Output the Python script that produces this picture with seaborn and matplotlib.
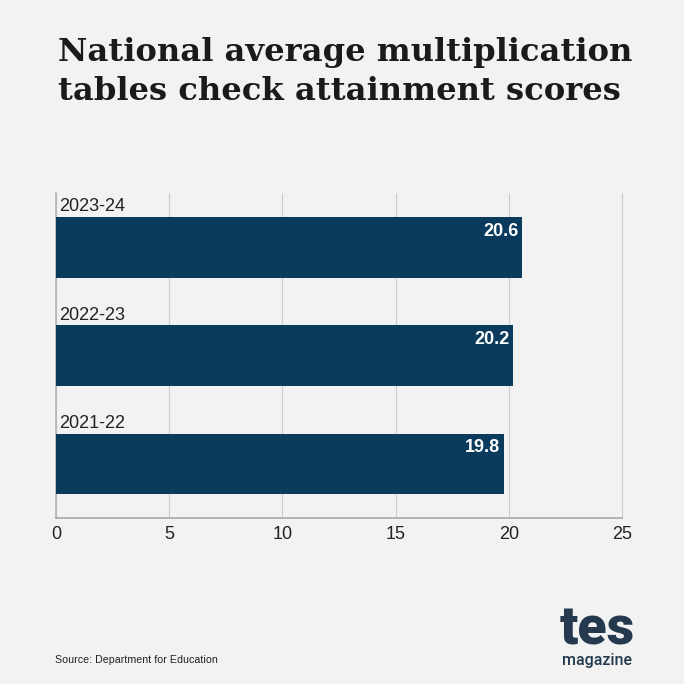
import matplotlib
matplotlib.use("Agg")
import matplotlib.pyplot as plt
import seaborn as sns
import pandas as pd

years = ["2023-24", "2022-23", "2021-22"]
scores = [20.6, 20.2, 19.8]
x_ticks = [0, 5, 10, 15, 20, 25]

df = pd.DataFrame({"year": years, "score": scores})

bg = "#f2f2f2"
navy = "#0b3b5c"
ink = "#222222"

sns.set_theme(style="whitegrid")
plt.rcParams["font.family"] = ["Liberation Sans", "DejaVu Sans"]

fig = plt.figure(figsize=(6.84, 6.84), dpi=100, facecolor=bg)
ax = fig.add_axes([56 / 684, 1 - 518 / 684, 566 / 684, 325 / 684], facecolor=bg)

sns.barplot(data=df, y="year", x="score", orient="h", color=navy, width=0.56,
            saturation=1, linewidth=0, ax=ax, zorder=3)

ax.set_xlim(0, 25)
ax.set_xticks(x_ticks)
ax.set_xlabel("")
ax.set_ylabel("")
ax.set_yticklabels([])
ax.tick_params(axis="y", length=0)
ax.tick_params(axis="x", length=0, pad=6, labelsize=13, labelcolor=ink)

ax.grid(axis="x", color="#cccccc", lw=0.8)
ax.grid(axis="y", visible=False)
ax.set_axisbelow(True)
for line in ax.get_xgridlines():
    line.set_clip_on(False)

sns.despine(ax=ax, top=True, right=True)
ax.spines["left"].set_color("#b4b4b4")
ax.spines["left"].set_linewidth(1.2)
ax.spines["bottom"].set_color("#a8a8a8")
ax.spines["bottom"].set_linewidth(1.2)

# year labels sit above each bar, values inside the bar end
for i, (year, score) in enumerate(zip(years, scores)):
    ax.annotate(year, xy=(0, i), xycoords="data", xytext=(2.6, 23), textcoords="offset points",
                va="bottom", ha="left", fontsize=13, color=ink)
    ax.annotate(f"{score:.1f}", xy=(score, i), xycoords="data", xytext=(-3, 11.5), textcoords="offset points",
                va="center", ha="right", fontsize=13, fontweight="bold", color="white", zorder=5)

# title
fig.text(58 / 684, 1 - 52.5 / 684, "National average multiplication", family="DejaVu Serif",
         fontweight="bold", fontsize=23.1, color="#1a1a1a", va="center", ha="left")
fig.text(58 / 684, 1 - 91.5 / 684, "tables check attainment scores", family="DejaVu Serif",
         fontweight="bold", fontsize=23.1, color="#1a1a1a", va="center", ha="left")

fig.text(55 / 684, 1 - 660 / 684, "Source: Department for Education", fontsize=7.7, color=ink,
         va="center", ha="left")

# logo
fig.text(597 / 684, 1 - 630 / 684, "tes", family="Roboto", fontweight="black", fontsize=38.5,
         color="#24394d", va="center", ha="center")
fig.text(597 / 684, 1 - 661 / 684, "magazine", family="Roboto", fontweight="medium", fontsize=11.5,
         color="#24394d", va="center", ha="center")

fig.savefig("out.png", dpi=100, facecolor=bg)
